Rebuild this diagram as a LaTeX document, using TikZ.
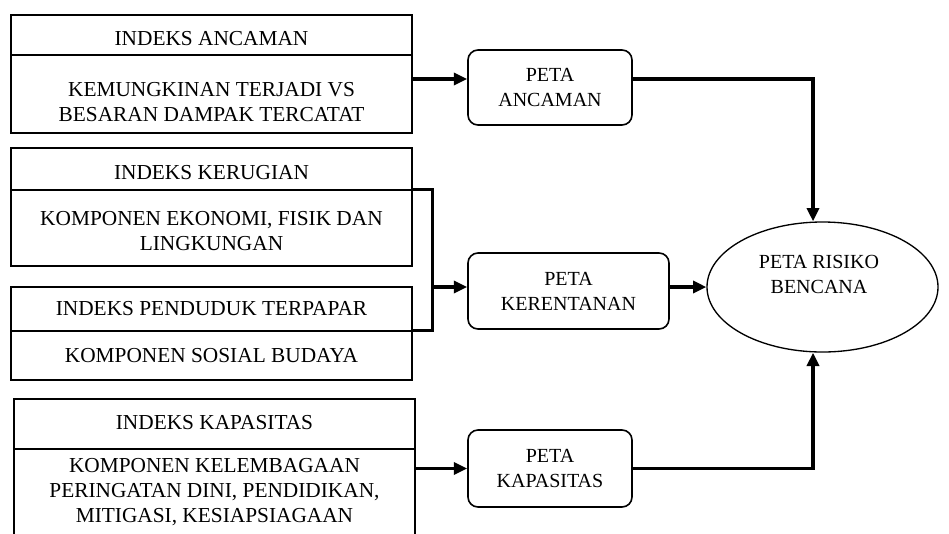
\documentclass[tikz,border=0pt]{standalone}
\usepackage{fontspec}
\setmainfont{Liberation Serif}
\usetikzlibrary{arrows.meta,shapes.geometric,calc}
\begin{document}
\begin{tikzpicture}[x=0.75pt,y=-0.75pt,
 part/.style={draw,line width=1.2pt,inner sep=0pt,minimum width=300.75pt},
 txt/.style={font=\fontsize{16}{18.75}\selectfont,align=center,inner sep=0pt},
 rtxt/.style={font=\fontsize{15}{18.75}\selectfont,align=center,inner sep=0pt},
 peta/.style={draw,line width=1.2pt,rounded corners=7.5pt,inner sep=0pt,font=\fontsize{15}{18.75}\selectfont,align=center},
 arr/.style={line width=2.5pt,-{Triangle[length=10pt,width=9pt]}},
 conn/.style={line width=2.5pt}]
\useasboundingbox (0,0) rectangle (949,533);
% left boxes
\node[part,minimum height=30pt] (b1t) at (211.5,35) {};
\node[part,minimum height=58.5pt] (b1b) at (211.5,94) {};
\node[part,minimum height=31.5pt] (b2t) at (211.5,169) {};
\node[part,minimum height=57pt] (b2b) at (211.5,228) {};
\node[part,minimum height=33pt] (b3t) at (211.5,309) {};
\node[part,minimum height=36.75pt] (b3b) at (211.5,355.5) {};
\node[part,minimum height=37.5pt] (b4t) at (214.5,424) {};
\node[part,minimum height=64.5pt] (b4b) at (214.5,492) {};
% texts
\node[txt] (t1t) at (211.5,38.5) {INDEKS ANCAMAN};
\node[txt] (t1b) at (211.5,102.5) {KEMUNGKINAN TERJADI VS\\BESARAN DAMPAK TERCATAT};
\node[txt] (t2t) at (211.5,173) {INDEKS KERUGIAN};
\node[txt] (t2b) at (211.5,231) {KOMPONEN EKONOMI, FISIK DAN\\LINGKUNGAN};
\node[txt] (t3t) at (211.5,309) {INDEKS PENDUDUK TERPAPAR};
\node[txt] (t3b) at (211.5,356) {KOMPONEN SOSIAL BUDAYA};
\node[txt] (t4t) at (214.5,423) {INDEKS KAPASITAS};
\node[txt] (t4b) at (214.5,492) {KOMPONEN KELEMBAGAAN\\PERINGATAN DINI, PENDIDIKAN,\\MITIGASI, KESIAPSIAGAAN};
% maps
\node[peta,minimum width=123pt,minimum height=56.25pt] (pa) at (550,87.5) {PETA\\ANCAMAN};
\node[peta,minimum width=150.75pt,minimum height=57pt] (pk) at (568.5,291) {PETA\\KERENTANAN};
\node[peta,minimum width=123pt,minimum height=57.75pt] (pc) at (550,468.5) {PETA\\KAPASITAS};
\node[draw,ellipse,line width=1pt,minimum width=173.25pt,minimum height=97.5pt,inner sep=0pt] (ell) at (822.5,287) {};
\node[rtxt] (et) at (819,274.5) {PETA RISIKO\\BENCANA};
% connectors
\coordinate (etop) at ($(ell.north)+(-9.5,0)$);
\coordinate (ebot) at ($(ell.south)+(-9.5,0)$);
\draw[arr] ([yshift=11.25pt]b1b.east) -- ([yshift=11.25pt]b1b.east -| pa.west);
\draw[arr] ([yshift=6.375pt]pa.east) -| (etop);
\draw[conn] (b2b.north east) -- ++(20,0) |- (b3b.north east);
\coordinate (brm) at (432,287);
\draw[arr] (brm) -- (brm -| pk.west);
\draw[arr] (pk.east |- ell) -- (ell.west);
\draw[arr] (b4b.east |- pc) -- (pc.west);
\draw[arr] (pc.east) -| (ebot);
\end{tikzpicture}
\end{document}
